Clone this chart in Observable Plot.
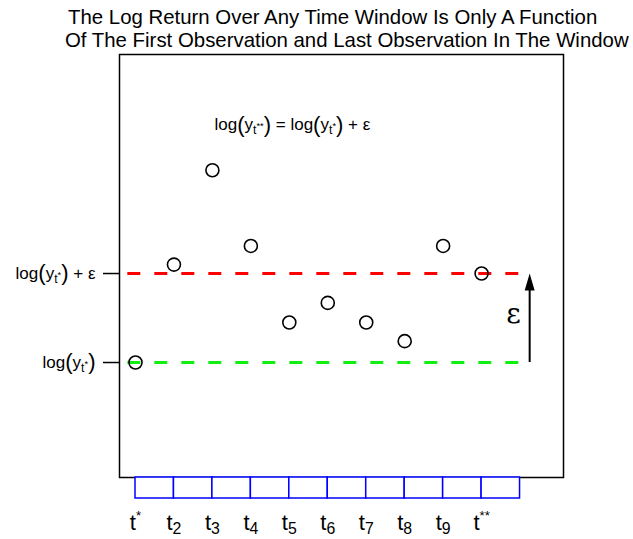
<!DOCTYPE html>
<html><head><meta charset="utf-8">
<script src="https://cdn.jsdelivr.net/npm/d3@7"></script>
<script src="https://cdn.jsdelivr.net/npm/@observablehq/plot@0.6"></script>
<style>
body{margin:0;background:#fff;}
#wrap{position:relative;width:633px;height:539px;font-family:"Liberation Sans",Arial,sans-serif;overflow:hidden;}
#wrap svg{position:absolute;left:0;top:0;}
.tl{position:absolute;left:65px;font-size:20.4px;white-space:pre;line-height:1;color:#000;z-index:2;}
</style></head><body>
<div id="wrap">
<div class="tl" id="t1" style="top:7px;left:68px"></div>
<div class="tl" id="t2" style="top:30px"></div>
</div>
<script>
// ---- data ----
const titleLines = [
  "The Log Return Over Any Time Window Is Only A Function",
  "Of The First Observation and Last Observation In The Window"
];
const timeIndex = [1, 2, 3, 4, 5, 6, 7, 8, 9, 10];
const timeLabels = ["t^{*}", "t_{2}", "t_{3}", "t_{4}", "t_{5}", "t_{6}", "t_{7}", "t_{8}", "t_{9}", "t^{**}"];
const logValues = [0, 1.10, 2.16, 1.31, 0.45, 0.67, 0.45, 0.24, 1.31, 1.0];
const levelValues = [0, 1];
const levelLabels = ["log(y_{t}~{*})", "log(y_{t}~{*}) + ε"];
const levelColors = ["#11ee11", "#ff0000"];
const equation = "log(y_{t}~{**}) = log(y_{t}~{*}) + ε";
const epsLabel = "ε";
const windowStart = 0.8, windowEnd = 11, arrowX = 11.25;

document.getElementById("t1").textContent = titleLines[0];
document.getElementById("t2").textContent = titleLines[1];

const arrowHead = {draw(ctx) { ctx.moveTo(0, 0); ctx.lineTo(5, 17); ctx.lineTo(-5, 17); ctx.closePath(); }};

const chart = Plot.plot({
  width: 633, height: 539,
  marginLeft: 119, marginRight: 70, marginTop: 54, marginBottom: 62,
  x: {domain: [0.584, 12.13], axis: null},
  y: {domain: [-1.292, 3.461], axis: null},
  style: {fontFamily: "'Liberation Sans', Arial, sans-serif", background: "transparent", overflow: "visible", color: "black"},
  marks: [
    Plot.frame({stroke: "black", strokeWidth: 1.5}),
    Plot.axisY({ticks: levelValues, tickFormat: d => levelLabels[levelValues.indexOf(d)], tickSize: 16, tickPadding: 8, fontSize: 17, strokeWidth: 1.5, anchor: "left", label: null}),
    Plot.ruleY([levelValues[0]], {y: d => d, x1: () => windowStart, x2: () => windowEnd, stroke: levelColors[0], strokeWidth: 3, strokeDasharray: "13,14"}),
    Plot.ruleY([levelValues[1]], {y: d => d, x1: () => windowStart, x2: () => windowEnd, stroke: levelColors[1], strokeWidth: 3, strokeDasharray: "13,14"}),
    Plot.dot(timeIndex, {x: d => d, y: (d, i) => logValues[i], r: 6.5, stroke: "black", strokeWidth: 1.6, fill: "none"}),
    Plot.rect(timeIndex, {x1: d => d, x2: d => d + 1, y1: () => -1.528, y2: () => -1.292, stroke: "#0000ff", fill: "white", strokeWidth: 1.5}),
    Plot.ruleX([arrowX], {x: d => d, y1: () => levelValues[0], y2: () => levelValues[1] - 0.12, stroke: "black", strokeWidth: 2}),
    Plot.dot([arrowX], {x: d => d, y: () => levelValues[1], symbol: arrowHead, fill: "black", stroke: "none", r: 5}),
    Plot.text([epsLabel], {x: () => 10.83, y: () => 0.55, text: d => d, fontSize: 28, fontFamily: "'DejaVu Serif', serif"}),
    Plot.text([equation], {x: () => 5.08, y: () => 2.67, text: d => d, fontSize: 17, className: "rich"}),
    Plot.text(timeIndex, {x: d => d, text: (d, i) => timeLabels[i], frameAnchor: "bottom", dy: 52, fontSize: 22, className: "rich"})
  ]
});
document.getElementById("wrap").appendChild(chart);

// rich text: _{} subscript, ^{} superscript, ~{} superscript on a subscript, larger parentheses
function rich(el, src, base) {
  el.textContent = "";
  el.setAttribute("style", (el.getAttribute("style") || "") + ";white-space:pre");
  const segs = [];
  let i = 0;
  while (i < src.length) {
    const c = src[i];
    if ("_^~".includes(c) && src[i + 1] === "{") {
      const j = src.indexOf("}", i);
      segs.push({t: src.slice(i + 2, j), k: c});
      i = j + 1;
    } else if (c === "(" || c === ")") {
      segs.push({t: c, k: "p"}); i++;
    } else {
      let j = i;
      while (j < src.length && !("()".includes(src[j]) || ("_^~".includes(src[j]) && src[j + 1] === "{"))) j++;
      segs.push({t: src.slice(i, j), k: "n"}); i = j;
    }
  }
  const spec = {
    n: [1, 0], p: [1.3, 0.07], "_": [0.72, 0.22], "^": [0.6, -0.42], "~": [0.55, -0.08]
  };
  let prev = 0;
  for (const s of segs) {
    const [sz, o] = spec[s.k];
    const off = o * base;
    const ts = document.createElementNS("http://www.w3.org/2000/svg", "tspan");
    ts.setAttribute("font-size", (sz * base).toFixed(2));
    if (Math.abs(off - prev) > 0.01) ts.setAttribute("dy", (off - prev).toFixed(2));
    prev = off;
    ts.textContent = s.t;
    el.appendChild(ts);
  }
}
d3.select(chart).selectAll("g[aria-label='y-axis tick label'] text").each(function () {
  rich(this, this.textContent, 17);
});
d3.select(chart).selectAll("g.rich text").each(function () {
  const fs = parseFloat(this.parentNode.getAttribute("font-size")) || 17;
  rich(this, this.textContent, fs);
});
</script>
</body></html>
